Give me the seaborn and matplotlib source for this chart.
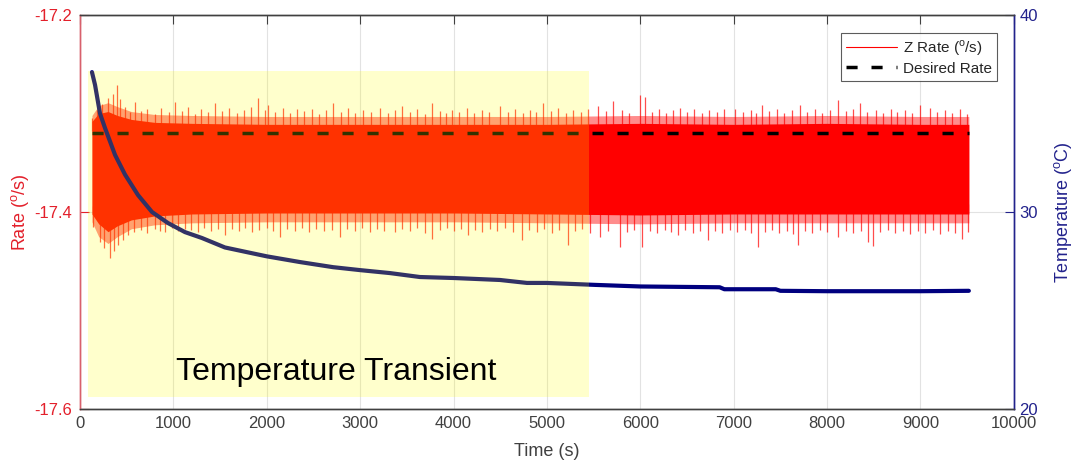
import numpy as np
import pandas as pd
import seaborn as sns
import matplotlib.pyplot as plt
from matplotlib.patches import Rectangle
from matplotlib.lines import Line2D

sns.set_style("white")
plt.rcParams['font.family'] = ['Liberation Sans', 'DejaVu Sans']
plt.rcParams['mathtext.fontset'] = 'custom'
plt.rcParams['mathtext.rm'] = 'Liberation Sans'

# Z rate: dense core of the signal (envelope)
core_t = [128, 200, 300, 400, 550, 800, 1200, 2000, 3000, 4000, 5000, 6000, 7000, 8000, 9000, 9518]
core_top = [-17.308, -17.300, -17.298, -17.302, -17.306, -17.309, -17.310, -17.311, -17.311,
            -17.311, -17.311, -17.310, -17.311, -17.310, -17.311, -17.311]
core_bot = [-17.402, -17.412, -17.420, -17.414, -17.408, -17.404, -17.402, -17.401, -17.401,
            -17.401, -17.402, -17.403, -17.402, -17.402, -17.402, -17.402]
# Z rate: half-dense fringe just outside the core
fringe_top = [-17.302, -17.292, -17.289, -17.293, -17.298, -17.301, -17.302, -17.303, -17.303,
              -17.303, -17.303, -17.302, -17.303, -17.302, -17.303, -17.303]
fringe_bot = [-17.410, -17.425, -17.432, -17.425, -17.417, -17.413, -17.411, -17.410, -17.410,
              -17.410, -17.411, -17.412, -17.411, -17.411, -17.411, -17.411]

# Z rate: spikes sticking out above the core
up_t = [130, 180, 240, 300, 350, 393, 430, 480, 540, 589, 650, 720, 800, 870, 950, 1017, 1090,
        1160, 1230, 1300, 1370, 1445, 1520, 1600, 1680, 1760, 1830, 1906, 1980, 2013, 2090, 2170,
        2250, 2320, 2400, 2484, 2560, 2630, 2710, 2790, 2870, 2950, 3030, 3120, 3212, 3300, 3373,
        3448, 3530, 3610, 3690, 3769, 3850, 3920, 3983, 4060, 4140, 4220, 4300, 4380, 4497, 4580,
        4660, 4740, 4820, 4880, 4957, 5040, 5120, 5200, 5280, 5360, 5440, 5546, 5630, 5707, 5800,
        5880, 5996, 6049, 6120, 6200, 6280, 6350, 6424, 6500, 6580, 6660, 6740, 6820, 6900, 7013,
        7100, 7180, 7240, 7302, 7380, 7460, 7540, 7620, 7709, 7790, 7870, 7950, 8030, 8116, 8200,
        8280, 8351, 8430, 8520, 8600, 8680, 8747, 8830, 8910, 8994, 9101, 9180, 9260, 9340, 9420,
        9500]
up_v = [-17.305, -17.296, -17.290, -17.284, -17.280, -17.271, -17.285, -17.293, -17.298, -17.288,
        -17.297, -17.295, -17.300, -17.294, -17.298, -17.288, -17.297, -17.293, -17.300, -17.295,
        -17.298, -17.289, -17.297, -17.294, -17.299, -17.296, -17.293, -17.284, -17.296, -17.291,
        -17.298, -17.294, -17.299, -17.295, -17.297, -17.295, -17.300, -17.296, -17.289, -17.298,
        -17.294, -17.299, -17.296, -17.298, -17.294, -17.299, -17.296, -17.292, -17.298, -17.295,
        -17.300, -17.289, -17.297, -17.299, -17.296, -17.298, -17.294, -17.299, -17.296, -17.298,
        -17.292, -17.298, -17.295, -17.299, -17.296, -17.298, -17.289, -17.297, -17.294, -17.299,
        -17.296, -17.298, -17.295, -17.292, -17.297, -17.287, -17.296, -17.299, -17.281, -17.283,
        -17.298, -17.295, -17.299, -17.296, -17.294, -17.298, -17.295, -17.299, -17.296, -17.298,
        -17.295, -17.295, -17.298, -17.296, -17.299, -17.291, -17.297, -17.295, -17.299, -17.296,
        -17.291, -17.298, -17.295, -17.299, -17.296, -17.286, -17.297, -17.295, -17.289, -17.298,
        -17.296, -17.299, -17.295, -17.298, -17.296, -17.299, -17.291, -17.294, -17.298, -17.296,
        -17.299, -17.295, -17.300]

# Z rate: spikes below the core
lo_t = [140, 214, 260, 321, 360, 407, 460, 514, 580, 650, 720, 800, 860, 910, 980, 1050, 1120,
        1190, 1263, 1330, 1400, 1480, 1552, 1630, 1700, 1770, 1842, 1920, 2000, 2070, 2141, 2220,
        2300, 2380, 2450, 2530, 2610, 2700, 2784, 2860, 2940, 3020, 3100, 3180, 3260, 3373, 3450,
        3530, 3610, 3690, 3769, 3850, 3930, 4010, 4080, 4154, 4230, 4310, 4390, 4470, 4550, 4640,
        4732, 4810, 4890, 4970, 5050, 5130, 5225, 5300, 5380, 5460, 5567, 5650, 5782, 5860, 5930,
        6017, 6100, 6180, 6260, 6330, 6402, 6480, 6560, 6640, 6724, 6800, 6880, 6960, 7040, 7120,
        7190, 7259, 7330, 7410, 7490, 7570, 7630, 7687, 7760, 7840, 7920, 8000, 8116, 8200, 8280,
        8360, 8437, 8490, 8570, 8650, 8730, 8810, 8890, 8970, 9050, 9130, 9210, 9290, 9370, 9443,
        9510]
lo_v = [-17.415, -17.430, -17.437, -17.447, -17.440, -17.433, -17.428, -17.423, -17.420, -17.418,
        -17.421, -17.417, -17.419, -17.420, -17.416, -17.419, -17.417, -17.418, -17.420, -17.416,
        -17.419, -17.417, -17.423, -17.417, -17.419, -17.416, -17.420, -17.418, -17.416, -17.419,
        -17.425, -17.417, -17.419, -17.416, -17.420, -17.417, -17.419, -17.418, -17.425, -17.417,
        -17.419, -17.416, -17.420, -17.417, -17.419, -17.420, -17.417, -17.419, -17.416, -17.421,
        -17.427, -17.418, -17.416, -17.419, -17.417, -17.423, -17.418, -17.420, -17.417, -17.419,
        -17.416, -17.420, -17.428, -17.418, -17.420, -17.417, -17.421, -17.418, -17.433, -17.419,
        -17.417, -17.421, -17.425, -17.419, -17.436, -17.420, -17.418, -17.436, -17.419, -17.421,
        -17.418, -17.420, -17.423, -17.418, -17.421, -17.419, -17.428, -17.419, -17.421, -17.418,
        -17.420, -17.418, -17.421, -17.436, -17.420, -17.418, -17.421, -17.419, -17.422, -17.433,
        -17.419, -17.421, -17.418, -17.420, -17.425, -17.419, -17.421, -17.419, -17.430, -17.435,
        -17.420, -17.418, -17.421, -17.419, -17.422, -17.419, -17.421, -17.418, -17.422, -17.419,
        -17.421, -17.427, -17.420]

desired_t = [128, 9518]
desired_v = [-17.32, -17.32]

# temperature (right axis)
temp_t = [128, 161, 214, 268, 375, 482, 621, 771, 942, 1124, 1306, 1552, 1800, 2000, 2355, 2710,
          3000, 3319, 3640, 4000, 4497, 4786, 5000, 5520, 6000, 6424, 6850, 6900, 7450, 7500,
          8000, 9000, 9518]
temp_v = [37.1, 36.45, 35.0, 34.26, 32.9, 31.9, 30.86, 30.0, 29.44, 28.98, 28.68, 28.2, 27.95,
          27.75, 27.46, 27.2, 27.05, 26.9, 26.7, 26.65, 26.55, 26.4, 26.4, 26.3, 26.22, 26.2,
          26.18, 26.08, 26.08, 26.0, 25.98, 25.98, 26.0]

transient_start, transient_end = 86, 5450

red = "#FF0000"
red_txt = "#E3202B"
navy = "#00007F"
navy_txt = "#22228C"
gray = "#404040"

fig, ax = plt.subplots(figsize=(10.74, 4.62), dpi=100)
fig.subplots_adjust(left=0.0745, right=0.944, bottom=0.1147, top=0.9675)
ax2 = ax.twinx()

ax.fill_between(core_t, fringe_bot, fringe_top, color=red, alpha=0.45, lw=0, zorder=2)
ax.fill_between(core_t, core_bot, core_top, color=red, lw=0, zorder=2)
mid = np.interp(up_t, core_t, core_top)
ax.vlines(up_t, mid - 0.01, up_v, color=red, lw=0.9, alpha=0.7, zorder=2)
mid = np.interp(lo_t, core_t, core_bot)
ax.vlines(lo_t, mid + 0.01, lo_v, color=red, lw=0.9, alpha=0.7, zorder=2)

sns.lineplot(x=desired_t, y=desired_v, ax=ax, color="black", lw=2.5,
             linestyle=(0, (3.2, 4.0)), zorder=3, legend=False)

sns.lineplot(x=temp_t, y=temp_v, ax=ax2, color=navy, lw=3, zorder=2, legend=False)

# highlighted transient window sits over the data
ax2.add_patch(Rectangle((transient_start, -17.588), transient_end - transient_start, 0.331,
                        transform=ax.transData, facecolor="#FFFF00", alpha=0.2, lw=0, zorder=5))
ax2.text(1028, -17.571, "Temperature Transient", transform=ax.transData, fontsize=23,
         color="black", ha="left", va="baseline", zorder=6)

ax.set_xlim(0, 10000)
ax.set_ylim(-17.6, -17.2)
ax2.set_ylim(20, 40)
ax.set_xticks(np.arange(0, 10001, 1000))
ax.set_yticks([-17.6, -17.4, -17.2])
ax2.set_yticks([20, 30, 40])
ax.set_yticklabels(["-17.6", "-17.4", "-17.2"])

ax.grid(True, color="#E2E2E2", lw=0.8)
ax.set_axisbelow(True)

ax.set_xlabel("Time (s)", fontsize=13, color=gray, labelpad=9)
ax.set_ylabel(r"Rate ($^{\rm o}$/s)", fontsize=13, color=red_txt, labelpad=2)
ax2.set_ylabel(r"Temperature ($^{\rm o}$C)", fontsize=13, color=navy_txt, labelpad=10)

ax.tick_params(axis="x", direction="in", length=6.5, top=True, colors=gray, labelsize=12, pad=5)
ax.tick_params(axis="y", direction="in", length=6.5, colors=red_txt, labelsize=12, pad=6)
ax2.tick_params(axis="y", direction="in", length=6.5, colors=navy_txt, labelsize=12, pad=4)

for a in (ax, ax2):
    a.spines["top"].set_color(gray)
    a.spines["bottom"].set_color(gray)
    a.spines["left"].set_color("#D8606C")
    a.spines["right"].set_color(navy_txt)
    for s in a.spines.values():
        s.set_linewidth(1.0)

handles = [Line2D([], [], color=red, lw=0.8),
           Line2D([], [], color="black", lw=2.5, linestyle=(0, (3.2, 4.0)))]
labels = [r"Z Rate ($^{\rm o}$/s)", "Desired Rate"]
leg = ax2.legend(handles, labels, loc="upper right", bbox_to_anchor=(0.982, 0.955),
                 fontsize=11, frameon=True, fancybox=False, edgecolor="#333333",
                 handlelength=3.3, handletextpad=0.4, borderaxespad=0, labelspacing=0.25,
                 borderpad=0.35)
leg.get_frame().set_linewidth(0.8)
leg.set_zorder(10)

fig.savefig("out.png", dpi=100)
